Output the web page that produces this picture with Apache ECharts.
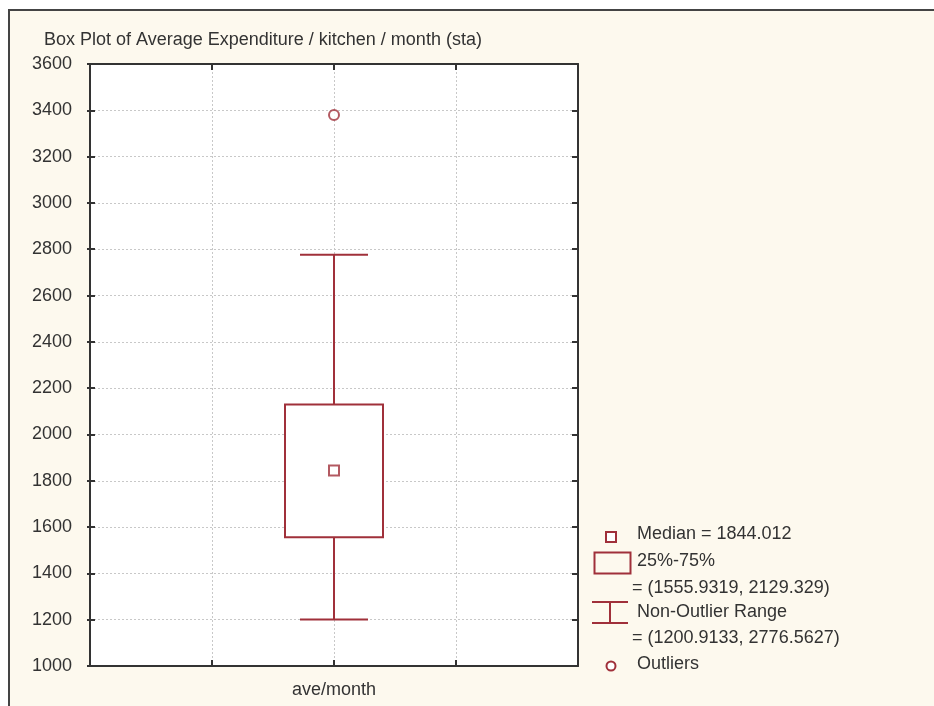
<!DOCTYPE html>
<html><head><meta charset="utf-8">
<script src="https://cdn.jsdelivr.net/npm/echarts@6/dist/echarts.min.js"></script>
<style>html,body{margin:0;padding:0;background:#fff}#c{width:934px;height:706px}</style>
</head><body><div id="c"></div>
<script>
const categories = ['', '', 'ave/month', '', ''];
const boxStats = [[2, 1200.9133, 1555.9319, 1844.012, 2129.329, 2776.5627]]; // [x, min, Q1, median, Q3, max]
const medians = [[2, 1844.012]];
const outliers = [[2, 3380]];
const yTicks = [1000, 3600, 200];
const legendTexts = ['Median = 1844.012', '25%-75%', '= (1555.9319, 2129.329)', 'Non-Outlier Range', '= (1200.9133, 2776.5627)', 'Outliers'];

const FONT = '"Liberation Sans", Arial, Helvetica, sans-serif';
const FS = 18;
const RED = '#a0303a';
const TXT = '#333';
const chart = echarts.init(document.getElementById('c'));
const gridDash = {show: true, lineStyle: {color: '#c8c8c8', type: [2, 2], width: 1}};
const xBase = {type: 'value', min: 0, max: 4, interval: 1};
const yBase = {type: 'value', min: yTicks[0], max: yTicks[1], interval: yTicks[2]};
const axLine = {show: true, onZero: false, lineStyle: {color: '#333', width: 2}};
const axTick = {show: true, inside: true, length: 6, lineStyle: {color: '#333', width: 2}};
const lt = (i, x, y) => ({type: 'text', left: x, top: y - 10, style: {text: legendTexts[i], font: FS + 'px ' + FONT, fill: TXT}});
chart.setOption({
  backgroundColor: '#fff',
  graphic: [
    {type: 'rect', z: -10, shape: {x: 9, y: 10, width: 940, height: 720}, style: {fill: '#fdf9ee', stroke: '#444', lineWidth: 2}},
    {type: 'rect', left: 605, top: 531, shape: {width: 10, height: 10}, style: {fill: '#fff', stroke: RED, lineWidth: 2}},
    {type: 'rect', left: 592, top: 550, shape: {width: 36, height: 21}, style: {fill: 'none', stroke: RED, lineWidth: 2}},
    {type: 'polyline', shape: {points: [[592, 602], [628, 602]]}, style: {stroke: RED, lineWidth: 2}},
    {type: 'polyline', shape: {points: [[592, 623], [628, 623]]}, style: {stroke: RED, lineWidth: 2}},
    {type: 'polyline', shape: {points: [[610, 602], [610, 623]]}, style: {stroke: RED, lineWidth: 2}},
    {type: 'circle', shape: {cx: 611, cy: 666, r: 4.5}, style: {fill: '#fff', stroke: RED, lineWidth: 2}},
    lt(0, 637, 535), lt(1, 637, 562), lt(2, 632, 589), lt(3, 637, 613), lt(4, 632, 639), lt(5, 637, 665)
  ],
  title: {text: 'Box Plot of Average Expenditure / kitchen / month (sta)', left: 44, top: 31, padding: 0,
    textStyle: {fontFamily: FONT, fontSize: FS, fontWeight: 'normal', color: TXT}},
  grid: {left: 90, top: 64, right: 356, bottom: 40, show: true, backgroundColor: '#fff', borderWidth: 0},
  xAxis: [
    Object.assign({}, xBase, {position: 'bottom', axisLine: axLine, axisTick: axTick,
      axisLabel: {margin: 15, fontFamily: FONT, fontSize: FS, color: TXT, formatter: v => categories[v] || ''},
      splitLine: gridDash}),
    Object.assign({}, xBase, {position: 'top', axisLine: axLine, axisTick: axTick,
      axisLabel: {show: false}, splitLine: {show: false}})
  ],
  yAxis: [
    Object.assign({}, yBase, {position: 'left', axisLine: axLine,
      axisTick: {show: true, inside: false, length: 3, lineStyle: {color: '#333', width: 2}},
      axisLabel: {margin: 18, fontFamily: FONT, fontSize: FS, color: TXT, formatter: v => String(v)},
      splitLine: gridDash}),
    Object.assign({}, yBase, {position: 'left', offset: 0, axisLine: axLine, axisTick: {show: true, inside: true, length: 5, lineStyle: {color: '#333', width: 2}},
      axisLabel: {show: false}, splitLine: {show: false}}),
    Object.assign({}, yBase, {position: 'right', axisLine: axLine, axisTick: axTick,
      axisLabel: {show: false}, splitLine: {show: false}})
  ],
  series: [
    {type: 'custom', data: boxStats, z: 3,
      renderItem: function (params, api) {
        const x = api.value(0);
        const pMin = api.coord([x, api.value(1)]);
        const pQ1 = api.coord([x, api.value(2)]);
        const pQ3 = api.coord([x, api.value(4)]);
        const pMax = api.coord([x, api.value(5)]);
        const bw = 98, cw = 68;
        const st = {stroke: RED, lineWidth: 2, fill: 'none'};
        return {type: 'group', children: [
          {type: 'line', shape: {x1: pMin[0], y1: pMin[1], x2: pQ1[0], y2: pQ1[1]}, style: st},
          {type: 'line', shape: {x1: pQ3[0], y1: pQ3[1], x2: pMax[0], y2: pMax[1]}, style: st},
          {type: 'line', shape: {x1: pMin[0] - cw / 2, y1: pMin[1], x2: pMin[0] + cw / 2, y2: pMin[1]}, style: st},
          {type: 'line', shape: {x1: pMax[0] - cw / 2, y1: pMax[1], x2: pMax[0] + cw / 2, y2: pMax[1]}, style: st},
          {type: 'rect', shape: {x: pQ3[0] - bw / 2, y: pQ3[1], width: bw, height: pQ1[1] - pQ3[1]}, style: {stroke: RED, lineWidth: 2, fill: '#fff'}}
        ]};
      }},
    {type: 'scatter', data: medians, symbol: 'rect', symbolSize: 10, z: 5,
      itemStyle: {color: '#fff', borderColor: RED, borderWidth: 2}},
    {type: 'scatter', data: outliers, symbol: 'circle', symbolSize: 10, z: 5,
      itemStyle: {color: '#fff', borderColor: RED, borderWidth: 2}}
  ]
});
</script></body></html>
